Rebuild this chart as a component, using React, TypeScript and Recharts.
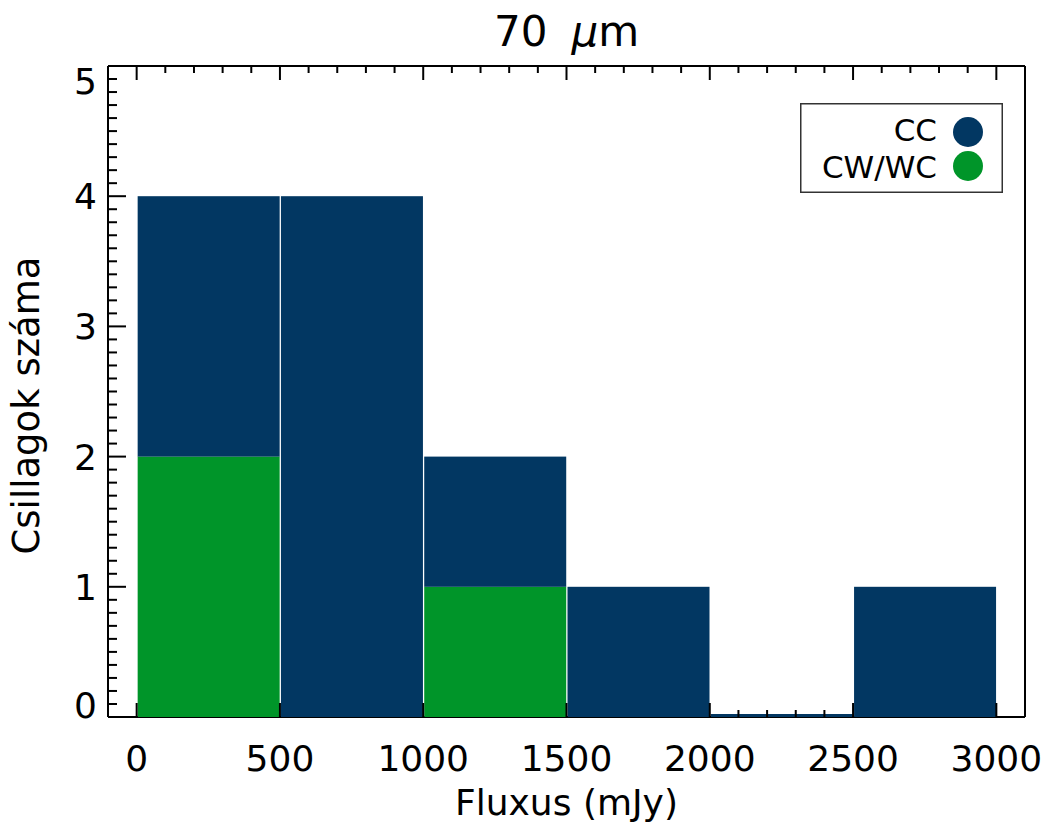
import React from 'react';
import { BarChart, Bar, XAxis, YAxis, Legend } from 'recharts';

// histogram bins (mJy) and counts per bin
const binStarts = [0, 500, 1000, 1500, 2000, 2500];
const binWidth = 500;
const cwwcCounts = [2, 0, 1, 0, 0, 0];
const ccCounts = [2, 4, 1, 1, 0, 1];

const seriesNames = ['CC', 'CW/WC'];
const seriesColors = ['#023762', '#009529'];

const xMajorTicks = [0, 500, 1000, 1500, 2000, 2500, 3000];
const yMajorTicks = [0, 1, 2, 3, 4, 5];
const xMinorPerMajor = 5;
const yMinorPerMajor = 10;

const FONT = '"DejaVu Sans", sans-serif';

const data = binStarts.map((s, i) => ({
  flux: s + binWidth / 2,
  cwwc: cwwcCounts[i],
  cc: ccCounts[i],
}));

const subdivide = (majors: number[], n: number) => {
  const out: number[] = [];
  for (let i = 0; i < majors.length - 1; i++) {
    const step = (majors[i + 1] - majors[i]) / n;
    for (let k = 0; k < n; k++) out.push(Math.round((majors[i] + k * step) * 1000) / 1000);
  }
  out.push(majors[majors.length - 1]);
  return out;
};

const xTicks = subdivide(xMajorTicks, xMinorPerMajor);
const yTicks = subdivide(yMajorTicks, yMinorPerMajor);

const isMajorX = (v: number) => xMajorTicks.includes(v);
const isMajorY = (v: number) => yMajorTicks.includes(v);

// bottom ticks are hidden where a filled bar covers them
const coveredByBar = (v: number) =>
  binStarts.some((s, i) => v > s && v < s + binWidth && ccCounts[i] + cwwcCounts[i] > 0);

const BottomTick = ({ x, y, payload }: any) => {
  const v = payload.value;
  const major = isMajorX(v);
  return (
    <g>
      {!coveredByBar(v) && (
        <line x1={x} y1={y} x2={x} y2={y - (major ? 14 : 7)} stroke="#000" strokeWidth={2} />
      )}
      {major && (
        <text x={x} y={y + 54} textAnchor="middle" fontSize={36} fontFamily={FONT} fill="#000">
          {v}
        </text>
      )}
    </g>
  );
};

const TopTick = ({ x, y, payload }: any) => (
  <line x1={x} y1={y} x2={x} y2={y + (isMajorX(payload.value) ? 14 : 7)} stroke="#000" strokeWidth={2} />
);

const LeftTick = ({ x, y, payload }: any) => {
  const v = payload.value;
  const major = isMajorY(v);
  const shift = v === yMajorTicks[0] ? -12 : v === yMajorTicks[yMajorTicks.length - 1] ? 15 : 0;
  return (
    <g>
      <line x1={x} y1={y} x2={x + (major ? 18 : 9)} y2={y} stroke="#000" strokeWidth={2} />
      {major && (
        <text x={x - 11} y={y + shift} dy="0.36em" textAnchor="end" fontSize={36} fontFamily={FONT} fill="#000">
          {v}
        </text>
      )}
    </g>
  );
};

const RightTick = ({ x, y, payload }: any) => (
  <line x1={x} y1={y} x2={x - (isMajorY(payload.value) ? 18 : 9)} y2={y} stroke="#000" strokeWidth={2} />
);

const TitleLabel = ({ viewBox }: any) => (
  <text
    x={viewBox.x + viewBox.width / 2}
    y={viewBox.y + viewBox.height - 20}
    textAnchor="middle"
    fontSize={42}
    fontFamily={FONT}
    fill="#000"
  >
    <tspan>70</tspan>
    <tspan dx={24} fontStyle="italic">μ</tspan>
    <tspan>m</tspan>
  </text>
);

const XLabel = ({ viewBox }: any) => (
  <text x={viewBox.x + viewBox.width / 2} y={viewBox.y + 98} textAnchor="middle" fontSize={36} fontFamily={FONT} fill="#000">
    Fluxus (mJy)
  </text>
);

const YLabel = ({ viewBox }: any) => {
  const cx = viewBox.x + 26;
  const cy = viewBox.y + viewBox.height / 2 + 14;
  return (
    <text
      x={cx}
      y={cy}
      transform={`rotate(-90 ${cx} ${cy})`}
      textAnchor="middle"
      dominantBaseline="central"
      fontSize={37}
      fontFamily={FONT}
      fill="#000"
    >
      Csillagok száma
    </text>
  );
};

const LegendBox = () => (
  <svg width={203} height={90} style={{ display: 'block' }}>
    <rect x={0.75} y={0.75} width={201.5} height={88.5} fill="#fff" stroke="#333" strokeWidth={1.5} />
    {seriesNames.map((name, i) => (
      <g key={name}>
        <text
          x={137}
          y={27 + i * 37}
          dy="0.36em"
          textAnchor="end"
          fontSize={31}
          fontFamily={FONT}
          fill="#000"
        >
          {name}
        </text>
        <circle cx={168} cy={29 + i * 34} r={15} fill={seriesColors[i]} />
      </g>
    ))}
  </svg>
);

// histogram bars keep a thin visible line when a bin is empty
const HistBar = ({ x, y, width, height, fill }: any) => {
  const h = Math.max(height || 0, 3);
  return <rect x={x} y={y + (height || 0) - h} width={width} height={h} fill={fill} />;
};

export default function App() {
  return (
    <div style={{ position: 'absolute', left: 0, top: 0, background: '#fff' }}>
      <BarChart
        width={1049}
        height={827}
        data={data}
        margin={{ top: 65, right: 23, bottom: 0, left: 0 }}
      >
        <XAxis
          xAxisId="b"
          dataKey="flux"
          type="number"
          domain={[-100, 3100]}
          ticks={xTicks}
          interval={0}
          height={110}
          tickSize={0}
          tickMargin={0}
          tickLine={false}
          tick={<BottomTick />}
          axisLine={{ stroke: '#000', strokeWidth: 2 }}
          label={<XLabel />}
        />
        <XAxis
          xAxisId="t"
          orientation="top"
          dataKey="flux"
          type="number"
          domain={[-100, 3100]}
          ticks={xTicks}
          interval={0}
          height={1}
          tickSize={0}
          tickMargin={0}
          tickLine={false}
          tick={<TopTick />}
          axisLine={{ stroke: '#000', strokeWidth: 2 }}
          label={<TitleLabel />}
        />
        <YAxis
          yAxisId="l"
          type="number"
          domain={[0, 5]}
          ticks={yTicks}
          interval={0}
          width={108}
          tickSize={0}
          tickMargin={0}
          tickLine={false}
          tick={<LeftTick />}
          axisLine={{ stroke: '#000', strokeWidth: 2 }}
          label={<YLabel />}
        />
        <YAxis
          yAxisId="r"
          orientation="right"
          type="number"
          domain={[0, 5]}
          ticks={yTicks}
          interval={0}
          width={1}
          tickSize={0}
          tickMargin={0}
          tickLine={false}
          tick={<RightTick />}
          axisLine={{ stroke: '#000', strokeWidth: 2 }}
        />
        <Legend
          layout="horizontal"
          verticalAlign="middle"
          align="center"
          content={<LegendBox />}
          wrapperStyle={{ left: 800, top: 103, width: 203, height: 90 }}
        />
        <Bar
          xAxisId="b"
          yAxisId="l"
          dataKey="cwwc"
          name="CW/WC"
          stackId="h"
          fill={seriesColors[1]}
          barSize={142}
          zIndex={600}
          isAnimationActive={false}
        />
        <Bar
          xAxisId="b"
          yAxisId="l"
          dataKey="cc"
          name="CC"
          stackId="h"
          fill={seriesColors[0]}
          barSize={142}
          shape={<HistBar />}
          zIndex={600}
          isAnimationActive={false}
        />
      </BarChart>
    </div>
  );
}
